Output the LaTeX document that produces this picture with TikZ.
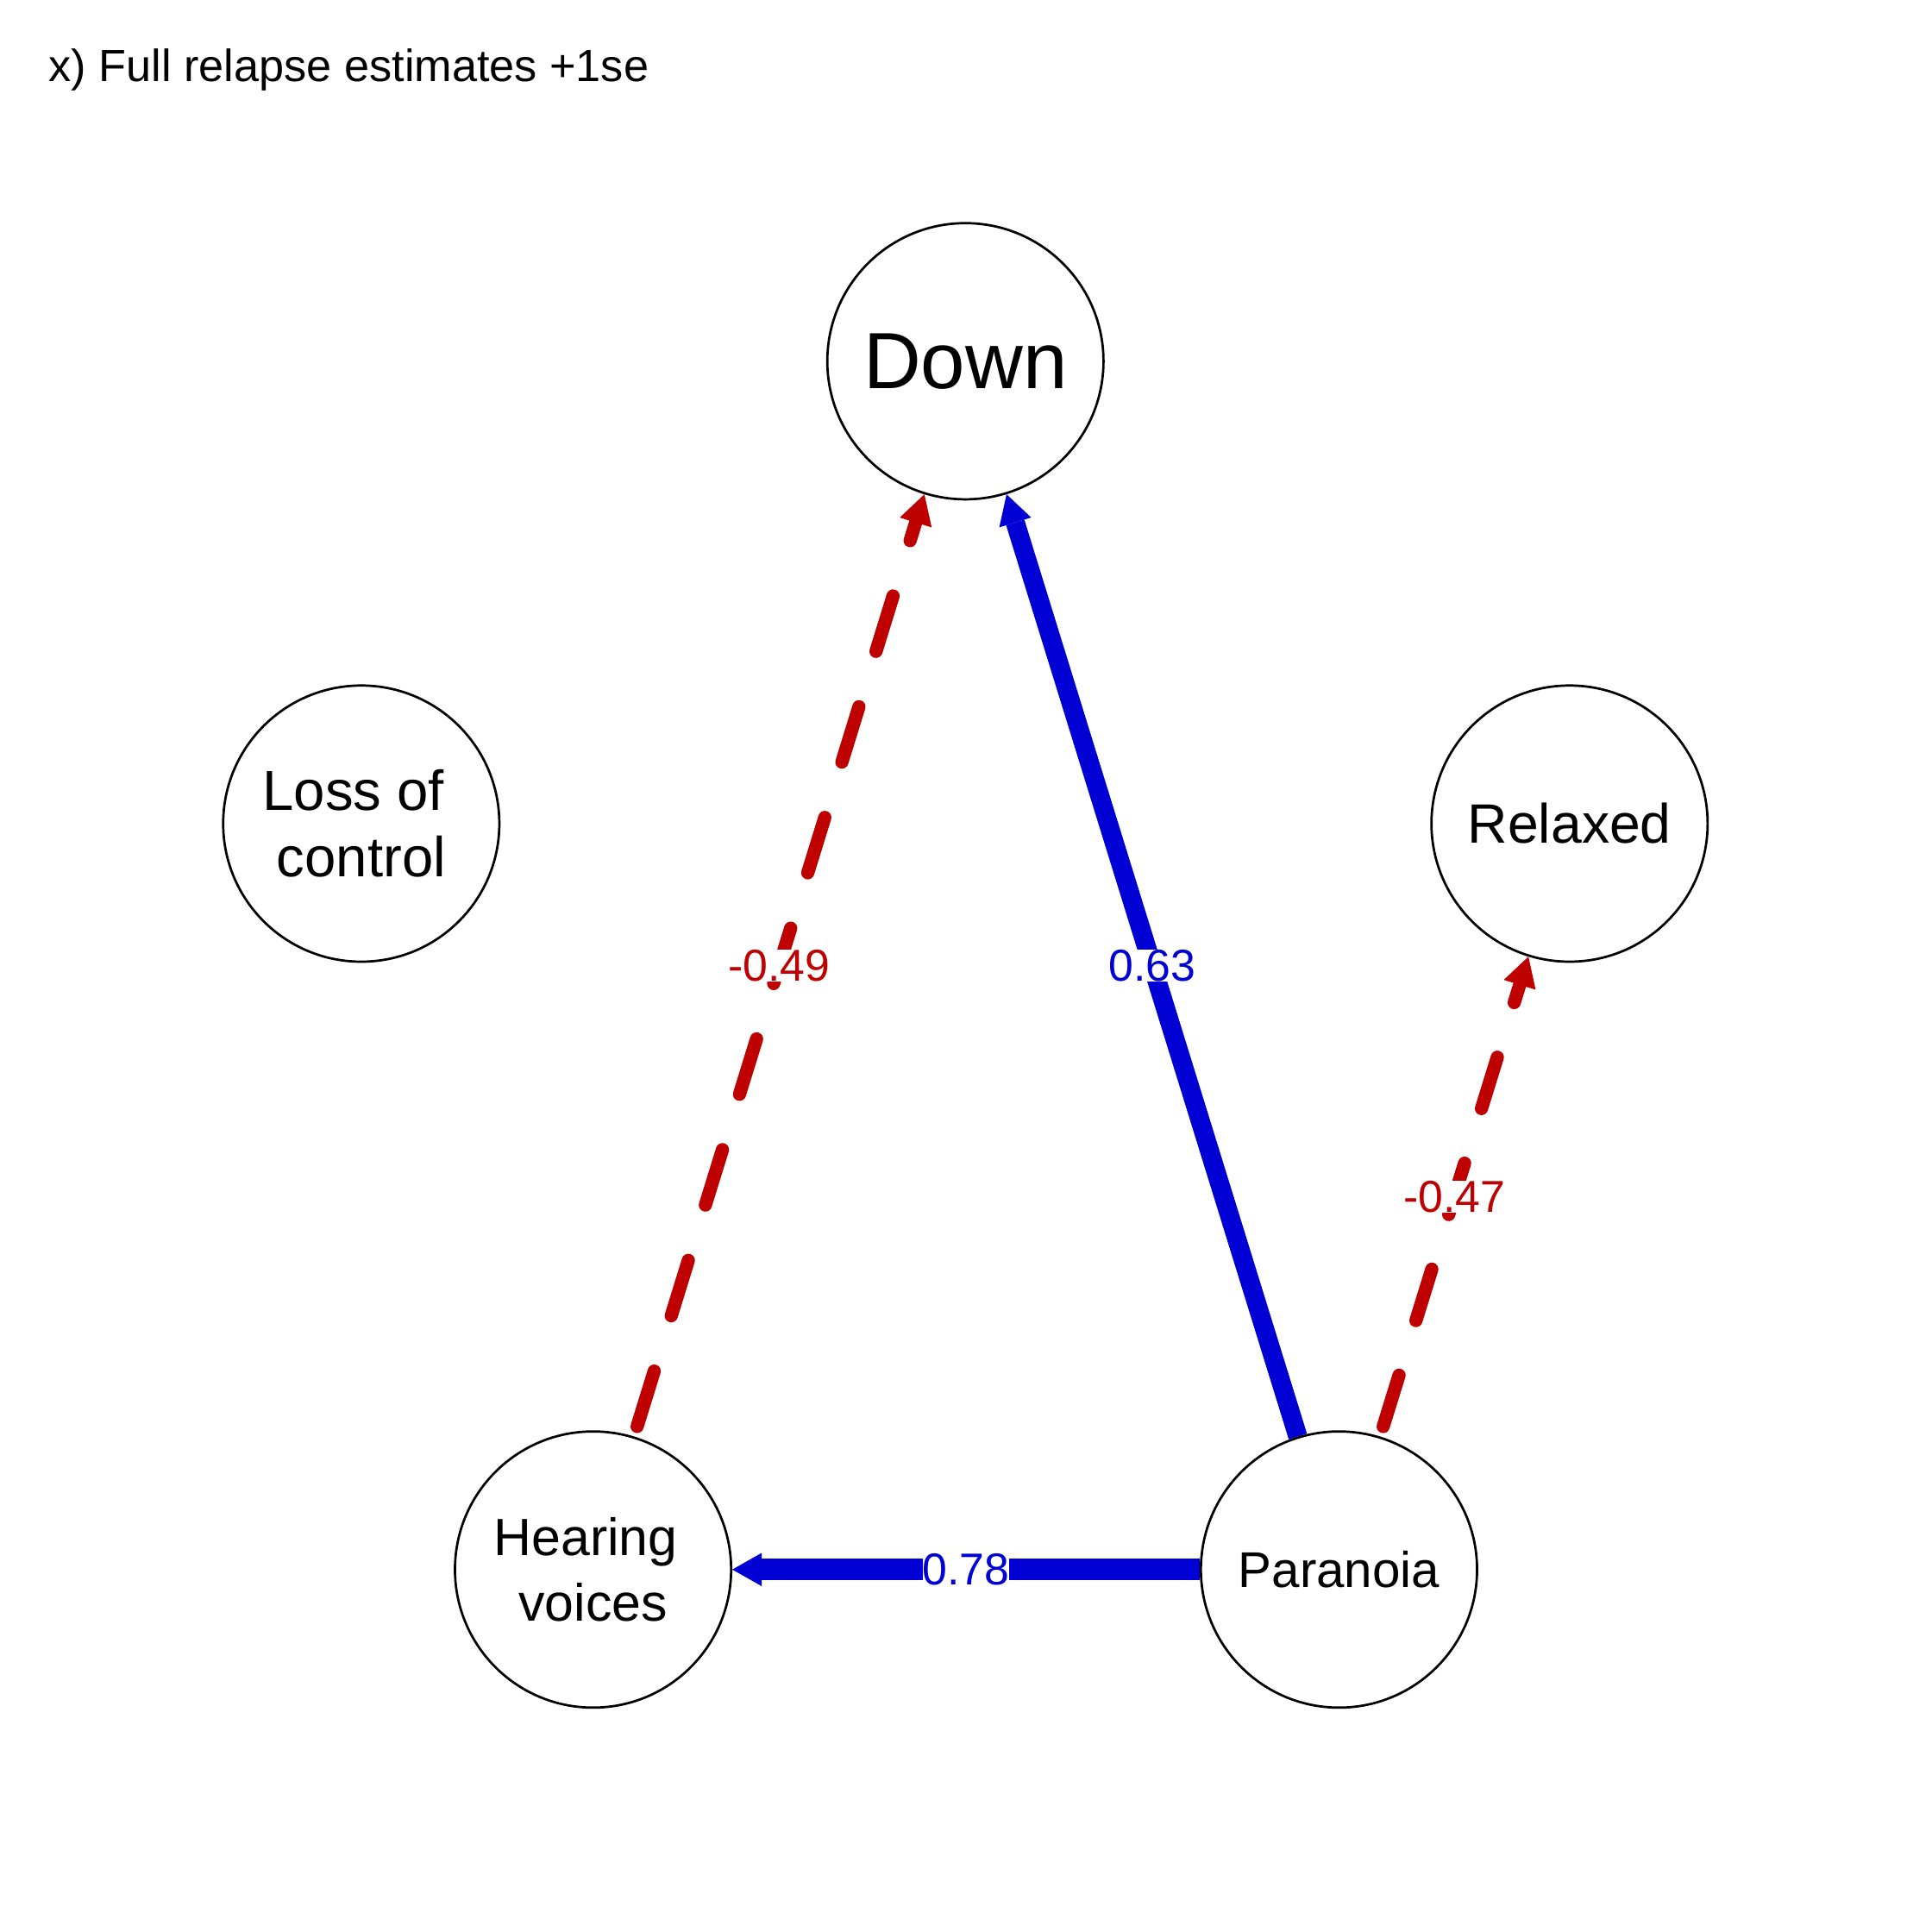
\documentclass[tikz,border=0pt]{standalone}
\usepackage{fontspec}
\setmainfont{Liberation Sans}
\usetikzlibrary{arrows.meta,backgrounds}
\definecolor{posblue}{HTML}{0000D5}
\definecolor{negred}{HTML}{BF0000}

\begin{document}
\begin{tikzpicture}[x=0.1mm, y=-0.1mm,
	var/.style={circle, draw=black, line width=0.54pt, fill=white, minimum size=22.4mm, inner sep=0pt, align=center},
	posedge/.style={color=posblue, -{Triangle[length=6.8pt, width=7.7pt, line width=0pt]}},
	negedge/.style={color=negred, line width=3.05pt, line cap=round, -{Triangle[length=6.8pt, width=7.7pt, line width=0pt]}},
	poslab/.style={text=posblue, fill=white, inner sep=0pt, font=\fontsize{10.3}{12}\selectfont},
	neglab/.style={poslab, text=negred}]
				\useasboundingbox (0,0) rectangle (1567,1567);
				\node[anchor=base west, inner sep=0pt, font=\fontsize{10.4}{12}\selectfont] (title) at (39,66) {x) Full relapse estimates +1se};
				
				\node[var, font=\fontsize{18.4}{22}\selectfont] (down) at (783,293) {Down};
				\node[var, font=\fontsize{13}{15.4}\selectfont] (loss) at (293,668) {Loss of\kern0.278em\\control};
				\node[var, font=\fontsize{12.8}{15}\selectfont] (relax) at (1273,668) {Relaxed};
				\node[var, font=\fontsize{12.1}{15.1}\selectfont] (hear) at (481,1273) {Hearing\kern0.278em\\voices};
				\node[var, font=\fontsize{11.6}{14}\selectfont] (para) at (1086,1273) {Paranoia};
				
				\begin{pgfonlayer}{background}
				\path[negedge, dash pattern=on 13.37pt off 13.37pt, dash phase=24.33pt] (hear) edge node[neglab] {-0.49} (down);
				\path[posedge, line width=4.4pt] (para) edge node[poslab] {0.63} (down);
				\path[negedge, dash pattern=on 12.4pt off 13.2pt, dash phase=23.19pt] (para) edge node[neglab] {-0.47} (relax);
				\path[posedge, line width=4.95pt] (para) edge node[poslab] {0.78} (hear);
				\end{pgfonlayer}
\end{tikzpicture}
\end{document}
